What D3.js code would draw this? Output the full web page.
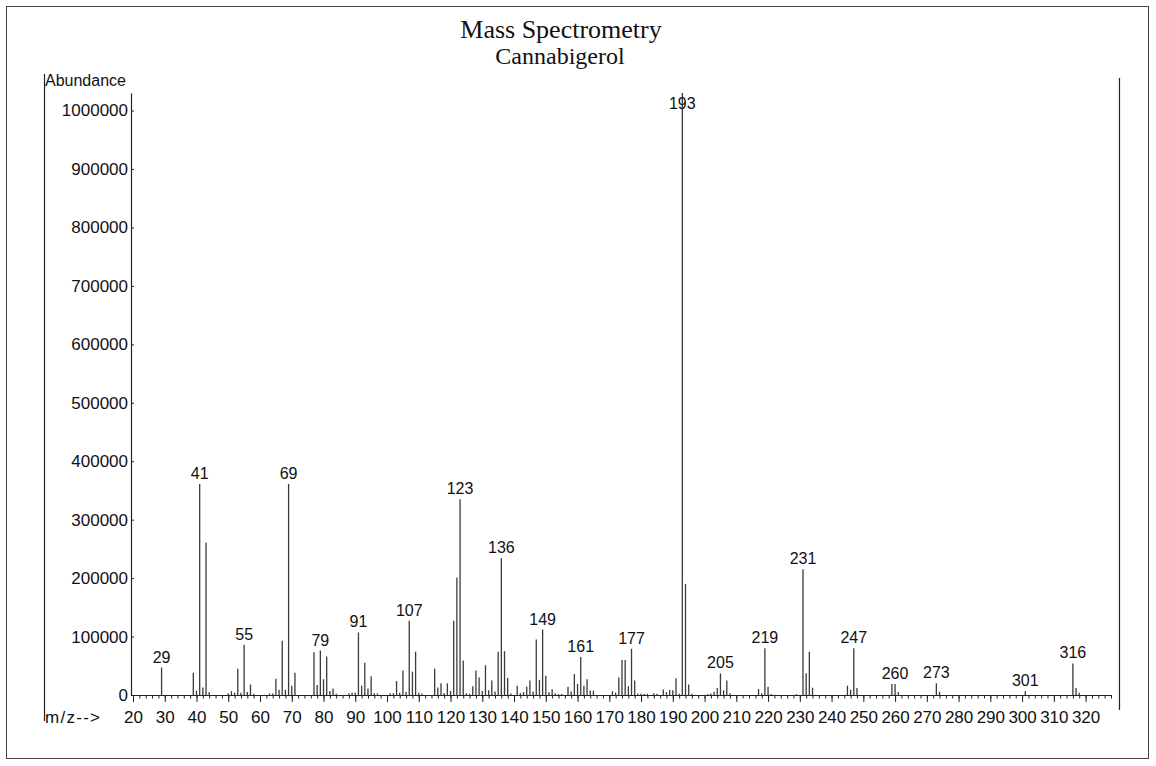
<!DOCTYPE html>
<html>
<head>
<meta charset="utf-8">
<script src="https://cdn.jsdelivr.net/npm/d3@7"></script>
<style>
  html, body { margin: 0; padding: 0; background: #fff; }
  svg { display: block; }
</style>
</head>
<body>
<svg id="chart" width="1156" height="766"></svg>
<script>
// Mass spectrum of cannabigerol: m/z values and their abundances
const mzValues = [
  29, 39, 40, 41, 42, 43, 44, 50, 51, 52, 53, 54, 55, 56, 57, 58, 63, 64, 65, 66,
  67, 68, 69, 70, 71, 77, 78, 79, 80, 81, 82, 83, 84, 88, 89, 90, 91, 92, 93, 94,
  95, 96, 97, 101, 102, 103, 104, 105, 106, 107, 108, 109, 110, 111, 115, 116, 117, 118, 119, 120,
  121, 122, 123, 124, 125, 126, 127, 128, 129, 130, 131, 132, 133, 134, 135, 136, 137, 138, 139, 141,
  142, 143, 144, 145, 146, 147, 148, 149, 150, 151, 152, 153, 154, 155, 157, 158, 159, 160, 161, 162,
  163, 164, 165, 171, 172, 173, 174, 175, 176, 177, 178, 179, 180, 181, 182, 184, 185, 187, 188, 189,
  190, 191, 192, 193, 194, 195, 196, 201, 202, 203, 204, 205, 206, 207, 208, 217, 218, 219, 220, 221,
  229, 231, 232, 233, 234, 245, 246, 247, 248, 259, 260, 261, 273, 274, 301, 316, 317, 318
];
const abundanceValues = [
  47000, 38000, 7500, 361000, 13000, 261000, 5000, 3000, 6500, 4000, 45000, 4000, 86000, 5000, 18000, 2000, 2500, 2500, 28000, 9000,
  93000, 9000, 361000, 16000, 38000, 73000, 17000, 76000, 27000, 66000, 7000, 11000, 2000, 2800, 4000, 4000, 107000, 16000, 55000, 11000,
  32000, 3000, 2500, 2500, 3000, 24000, 4000, 42000, 5000, 127000, 40000, 74000, 4000, 2000, 45000, 13000, 20000, 3500, 20000, 7000,
  127000, 201000, 335000, 59000, 3000, 2000, 15000, 42000, 30000, 7000, 51000, 8000, 25000, 6000, 74000, 234000, 75000, 29000, 2500, 16000,
  3000, 5000, 14000, 25000, 6000, 95000, 26000, 112000, 33000, 4500, 10000, 3000, 1500, 1500, 14000, 6000, 36000, 19000, 65000, 16000,
  27000, 7500, 7500, 6500, 4000, 30000, 60000, 60000, 15000, 79000, 25000, 2500, 2000, 1500, 2000, 3000, 2000, 9500, 5000, 8500,
  8000, 28500, 2000, 1030000, 190000, 18000, 2000, 1500, 2500, 5500, 12000, 37000, 8000, 25000, 2500, 10000, 3000, 80000, 14000, 1500,
  1500, 215000, 37000, 74000, 12500, 16000, 9000, 80000, 12000, 19000, 19000, 5000, 20000, 5500, 6500, 54000, 12000, 4000
];
// Peaks that carry an m/z annotation
const labeledPeaks = [29, 41, 55, 69, 79, 91, 107, 123, 136, 149, 161, 177, 193, 205, 219, 231, 247, 260, 273, 301, 316];

const xMajorTicks = d3.range(20, 321, 10);
const xMinorTicks = d3.range(20, 329, 2);
const yTicks = d3.range(0, 1000001, 100000);

const titleLines = ["Mass Spectrometry", "Cannabigerol"];

const peaks = mzValues.map((mz, i) => ({ mz, value: abundanceValues[i] }));

const svg = d3.select("#chart");
const sans = "'Liberation Sans', Arial, sans-serif";
const serif = "'Liberation Serif', 'Times New Roman', serif";

const x = d3.scaleLinear().domain([20, 328]).range([133, 1111]);
const y = d3.scaleLinear().domain([0, 1030000]).range([695, 93]);

// page border
svg.append("rect")
  .attr("x", 6.5).attr("y", 6.5).attr("width", 1142).attr("height", 752)
  .attr("fill", "none").attr("stroke", "#444").attr("stroke-width", 1);

// left and right frame rules
svg.append("line")
  .attr("x1", 44.5).attr("x2", 44.5).attr("y1", 74).attr("y2", 721)
  .attr("stroke", "#222").attr("stroke-width", 1.2);
svg.append("line")
  .attr("x1", 1119.5).attr("x2", 1119.5).attr("y1", 78).attr("y2", 710)
  .attr("stroke", "#222").attr("stroke-width", 1.2);

// title
const title = svg.append("g");
title.append("text")
  .attr("x", 561).attr("y", 38)
  .attr("text-anchor", "middle")
  .attr("font-family", serif).attr("font-size", 26).attr("fill", "#111")
  .text(titleLines[0]);
title.append("text")
  .attr("x", 560).attr("y", 64)
  .attr("text-anchor", "middle")
  .attr("font-family", serif).attr("font-size", 24).attr("fill", "#111")
  .text(titleLines[1]);

// axis titles
svg.append("text")
  .attr("x", 45).attr("y", 86)
  .attr("font-family", sans).attr("font-size", 16).attr("fill", "#111")
  .text("Abundance");
svg.append("text")
  .attr("x", 45).attr("y", 723)
  .attr("font-family", sans).attr("font-size", 17).attr("fill", "#111")
  .attr("textLength", 55).attr("lengthAdjust", "spacing")
  .text("m/z-->");

// x axis: minor ticks every 2, major ticks with labels every 10
const xMinor = svg.append("g")
  .attr("transform", `translate(0,${y(0)})`)
  .call(d3.axisBottom(x).tickValues(xMinorTicks).tickSize(3.5).tickSizeOuter(0).tickFormat(""));
xMinor.select(".domain").attr("d", `M131,0.5H1111`).attr("stroke", "#222").attr("stroke-width", 1.2);

const xMajor = svg.append("g")
  .attr("transform", `translate(0,${y(0)})`)
  .call(d3.axisBottom(x).tickValues(xMajorTicks).tickSize(7).tickPadding(9).tickSizeOuter(0));
xMajor.select(".domain").remove();
xMajor.selectAll("text")
  .attr("font-family", sans).attr("font-size", 17).attr("fill", "#111");

svg.selectAll(".tick line").attr("stroke", "#222");

// y axis
const yAxis = svg.append("g")
  .attr("transform", "translate(131,0)")
  .call(d3.axisLeft(y).tickValues(yTicks).tickSizeInner(-3).tickSizeOuter(0).tickPadding(3).tickFormat(d3.format("d")));
yAxis.select(".domain").attr("stroke", "#222").attr("stroke-width", 1.2);
yAxis.selectAll(".tick line").attr("stroke", "#222");
yAxis.selectAll("text")
  .attr("font-family", sans).attr("font-size", 17).attr("fill", "#111");

// spectrum lines
svg.append("g")
  .selectAll("line")
  .data(peaks)
  .join("line")
  .attr("x1", d => x(d.mz)).attr("x2", d => x(d.mz))
  .attr("y1", y(0)).attr("y2", d => y(d.value))
  .attr("stroke", "#3a3a3a")
  .attr("stroke-width", 1.3);

// m/z annotations above the main peaks
svg.append("g")
  .selectAll("text")
  .data(peaks.filter(d => labeledPeaks.includes(d.mz)))
  .join("text")
  .attr("x", d => x(d.mz))
  .attr("y", d => Math.max(y(d.value) - 5, 109))
  .attr("text-anchor", "middle")
  .attr("font-family", sans)
  .attr("font-size", 16)
  .attr("fill", "#111")
  .text(d => d.mz);
</script>
</body>
</html>
